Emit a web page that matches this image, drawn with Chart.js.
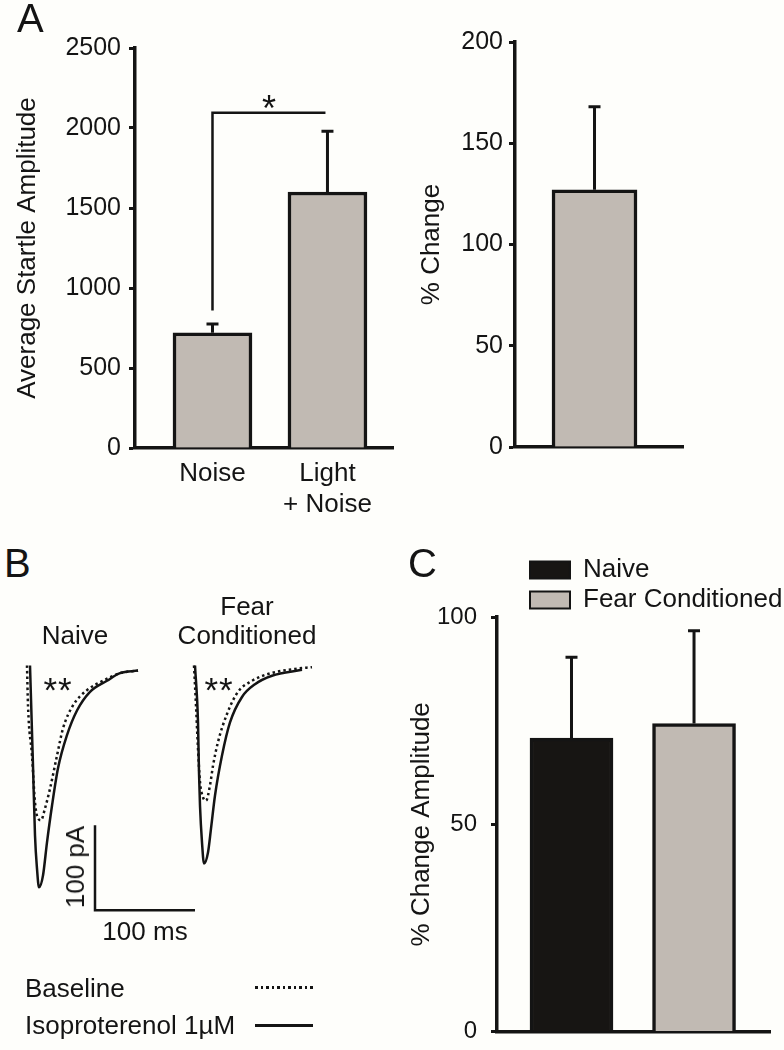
<!DOCTYPE html>
<html>
<head>
<meta charset="utf-8">
<title>Startle and EPSC amplitude</title>
<script src="https://cdn.jsdelivr.net/npm/chart.js@4.4.1/dist/chart.umd.min.js"></script>
<style>
  html, body { margin: 0; padding: 0; overflow: hidden; }
  body { width: 784px; height: 1050px; position: relative; background: #fefefb;
         font-family: 'Liberation Sans', Arial, sans-serif; color: #141414; }
  canvas { position: absolute; }
  .t { position: absolute; white-space: nowrap; line-height: 1; font-size: 26px; }
  .panel { font-size: 40px; }
  .mid { transform: translateX(-50%); }
  .stars { font-size: 35px; letter-spacing: 1px; }
  .key { position: absolute; left: 255px; width: 58px; height: 3px; }
</style>
</head>
<body>
<canvas id="startle" style="left:0;top:0" width="400" height="520"></canvas>
<canvas id="change" style="left:400px;top:0" width="384" height="520"></canvas>
<canvas id="naiveTrace" style="left:20px;top:640px" width="190" height="289"></canvas>
<canvas id="fearTrace" style="left:185px;top:640px" width="140" height="289"></canvas>
<canvas id="amplitude" style="left:400px;top:540px" width="384" height="520"></canvas>

<div class="t panel" style="left:17px;top:-2px">A</div>
<div class="t panel" style="left:4px;top:543px">B</div>
<div class="t panel" style="left:408px;top:543px">C</div>

<div class="t mid" style="left:75px;top:622px">Naive</div>
<div class="t mid" style="left:247px;top:593px">Fear</div>
<div class="t mid" style="left:247px;top:622px">Conditioned</div>
<div class="t mid stars" style="left:58px;top:672px">**</div>
<div class="t mid stars" style="left:219px;top:672px">**</div>
<div class="t" style="left:75px;top:867px;transform:translate(-50%,-50%) rotate(-90deg)">100 pA</div>
<div class="t mid" style="left:145px;top:918px">100 ms</div>
<div class="t" style="left:25px;top:975px">Baseline</div>
<div class="t" style="left:25px;top:1012px">Isoproterenol 1µM</div>
<div class="key" style="top:986px;background:repeating-linear-gradient(90deg,#141414 0 2.5px,transparent 2.5px 5.5px)"></div>
<div class="key" style="top:1024px;background:#141414"></div>

<script>
const ink = '#141414';
const barGrey = '#c1bab3';
const barBlack = '#171513';

// A, left: average startle amplitude
const startleCategories = ['Noise', ['Light', '+ Noise']];
const startleMeans = [720, 1600];
const startleSem = [55, 380];
const startleTicks = { min: 0, max: 2500, step: 500 };
const sigPair = [0, 1];
const sigLevel = 2095;
const sigLegBottom = 860;

// A, right: % change
const changeCategories = [''];
const changeMeans = [127];
const changeSem = [41];
const changeTicks = { min: 0, max: 200, step: 50 };

// C: % change amplitude
const groupNames = ['Naive', 'Fear Conditioned'];
const amplitudeMeans = [70.8, 74.3];
const amplitudeSem = [19.5, 22.4];
const amplitudeTicks = { min: 0, max: 100, step: 50 };

// B: example currents, time in ms, current in pA (relative to baseline)
const naiveIsoTime = [0, 3, 5, 7, 9, 13, 17, 22, 28, 37, 47, 60, 77, 90, 108];
const naiveIsoCurrent = [0, -118, -200, -239, -261, -247, -208, -165, -121, -82, -53, -31, -18, -9, -6];
const naiveBaseTime = [-3, -2, 2, 5, 8, 11, 15, 20, 27, 33, 43, 57, 73, 90, 108];
const naiveBaseCurrent = [0, -47, -106, -161, -180, -182, -168, -145, -106, -74, -47, -29, -18, -9, -6];
const fearIsoTime = [0, 3, 4, 5, 7, 9, 13, 16, 20, 27, 35, 47, 60, 77, 107];
const fearIsoCurrent = [0, -67, -126, -165, -208, -233, -220, -192, -153, -106, -67, -37, -22, -12, -5];
const fearBaseTime = [-1, 1, 3, 5, 8, 11, 15, 18, 23, 32, 43, 57, 73, 100, 117];
const fearBaseCurrent = [0, -47, -98, -137, -155, -159, -141, -118, -90, -57, -31, -18, -10, -4, -2];
// scale bar: 100 pA x 100 ms
const scaleBarTime = [65, 65, 165];
const scaleBarCurrent = [-188, -288, -288];

Chart.defaults.font.family = "'Liberation Sans', Arial, sans-serif";
Chart.defaults.color = ink;

const errorBars = {
  id: 'errorBars',
  afterDatasetsDraw(chart) {
    const { ctx, scales: { y } } = chart;
    chart.data.datasets.forEach((ds, di) => {
      if (!ds.errors) return;
      chart.getDatasetMeta(di).data.forEach((bar, i) => {
        const top = y.getPixelForValue(ds.data[i].y + ds.errors[i]);
        ctx.save();
        ctx.strokeStyle = ink;
        ctx.lineWidth = 3;
        ctx.beginPath();
        ctx.moveTo(bar.x, bar.y);
        ctx.lineTo(bar.x, top);
        ctx.moveTo(bar.x - 6, top);
        ctx.lineTo(bar.x + 6, top);
        ctx.stroke();
        ctx.restore();
      });
    });
  }
};

const sigBracket = {
  id: 'sigBracket',
  afterDatasetsDraw(chart, args, opts) {
    if (!opts.pair) return;
    const { ctx, scales: { x, y } } = chart;
    const x1 = x.getPixelForValue(opts.pair[0]);
    const x2 = x.getPixelForValue(opts.pair[1]) - 2;
    const yb = y.getPixelForValue(opts.level);
    const yl = y.getPixelForValue(opts.legBottom);
    ctx.save();
    ctx.strokeStyle = ink;
    ctx.lineWidth = 2.5;
    ctx.beginPath();
    ctx.moveTo(x1, yl);
    ctx.lineTo(x1, yb);
    ctx.lineTo(x2, yb);
    ctx.stroke();
    ctx.fillStyle = ink;
    ctx.font = "36px 'Liberation Sans', Arial, sans-serif";
    ctx.textAlign = 'center';
    ctx.textBaseline = 'alphabetic';
    ctx.fillText(opts.text, (x1 + x2) / 2, yb + 8);
    ctx.restore();
  }
};

// move the legend so its swatches line up with the first bar
const legendToBars = {
  id: 'legendToBars',
  beforeDraw(chart) {
    const bar = chart.getDatasetMeta(0).data[0];
    const lg = chart.legend;
    const shift = bar.x - bar.width / 2 - lg.options.labels.padding - lg.left;
    lg.left += shift;
    lg.right += shift;
  }
};

function barChart(id, o) {
  return new Chart(document.getElementById(id), {
    type: 'bar',
    data: { datasets: o.datasets },
    options: {
      responsive: false,
      animation: false,
      layout: { padding: o.padding },
      plugins: {
        legend: o.legend || { display: false },
        tooltip: { enabled: false },
        sigBracket: o.bracket || {}
      },
      scales: {
        x: {
          type: 'linear',
          min: o.xMin,
          max: o.xMax,
          offset: false,
          grid: { display: false, drawTicks: false, tickLength: 0 },
          border: { width: 3.5, color: ink },
          ticks: {
            display: o.showLabels,
            stepSize: 1,
            includeBounds: false,
            autoSkip: false,
            maxRotation: 0,
            padding: 10,
            color: ink,
            font: { size: 26 },
            callback: v => Number.isInteger(v) ? (o.categories[v] ?? '') : ''
          },
          afterFit: s => { s.height = o.xHeight; }
        },
        y: {
          min: o.ticks.min,
          max: o.ticks.max,
          ticks: {
            stepSize: o.ticks.step,
            padding: o.tickPad,
            color: ink,
            font: { size: o.tickFont },
            callback: v => String(v)
          },
          grid: { drawOnChartArea: false, tickLength: 6, tickWidth: 3, tickColor: ink },
          border: { width: 3.5, color: ink },
          title: {
            display: true,
            text: o.title,
            color: ink,
            font: { size: 26 },
            padding: { top: o.titlePad, bottom: 0 }
          },
          afterFit: s => { s.width = o.yWidth; }
        }
      }
    },
    plugins: [errorBars, sigBracket].concat(o.extraPlugins || [])
  });
}

const asPoints = vals => vals.map((v, i) => ({ x: i, y: v }));

barChart('startle', {
  categories: startleCategories,
  showLabels: true,
  datasets: [{
    data: asPoints(startleMeans),
    errors: startleSem,
    backgroundColor: barGrey,
    borderColor: ink,
    borderWidth: 3.5,
    barThickness: 79,
    grouped: false
  }],
  ticks: startleTicks,
  tickFont: 25,
  tickPad: 8,
  title: 'Average Startle Amplitude',
  titlePad: 12,
  yWidth: 135,
  xHeight: 72,
  xMin: -0.674,
  xMax: 1.57,
  padding: { top: 48, right: 7, left: 0, bottom: 0 },
  bracket: { pair: sigPair, level: sigLevel, legBottom: sigLegBottom, text: '*' }
});

barChart('change', {
  categories: changeCategories,
  showLabels: false,
  datasets: [{
    data: asPoints(changeMeans),
    errors: changeSem,
    backgroundColor: barGrey,
    borderColor: ink,
    borderWidth: 3.5,
    barThickness: 85,
    grouped: false
  }],
  ticks: changeTicks,
  tickFont: 25,
  tickPad: 6,
  title: '% Change',
  titlePad: 16,
  yWidth: 115,
  xHeight: 73,
  xMin: -1,
  xMax: 1.113,
  padding: { top: 42, right: 101, left: 0, bottom: 0 }
});

const groupColours = [barBlack, barGrey];
barChart('amplitude', {
  categories: [],
  showLabels: false,
  datasets: groupNames.map((name, i) => ({
    label: name,
    data: [{ x: i, y: amplitudeMeans[i] }],
    errors: [amplitudeSem[i]],
    backgroundColor: groupColours[i],
    borderColor: ink,
    borderWidth: 3.5,
    barThickness: 83,
    grouped: false
  })),
  legend: {
    display: true,
    position: 'top',
    align: 'start',
    fullSize: false,
    maxHeight: 64,
    labels: {
      boxWidth: 40,
      boxHeight: 17,
      padding: 4,
      color: ink,
      font: { size: 26 },
      generateLabels: chart => Chart.defaults.plugins.legend.labels.generateLabels(chart)
        .map(item => ({ ...item, lineWidth: 2 }))
    }
  },
  ticks: amplitudeTicks,
  tickFont: 24,
  tickPad: 14,
  title: '% Change Amplitude',
  titlePad: 6,
  yWidth: 97,
  xHeight: 22,
  xMin: -0.608,
  xMax: 1.62,
  padding: { top: 13, right: 14, left: 0, bottom: 0 },
  extraPlugins: [legendToBars]
});

const toXY = (t, c) => t.map((v, i) => ({ x: v, y: c[i] }));

function traceChart(id, xMax, sets) {
  return new Chart(document.getElementById(id), {
    type: 'line',
    data: { datasets: sets },
    options: {
      responsive: false,
      animation: false,
      layout: { padding: 0 },
      elements: { point: { radius: 0 } },
      plugins: { legend: { display: false }, tooltip: { enabled: false } },
      scales: {
        x: { type: 'linear', display: false, min: -10, max: xMax },
        y: { display: false, min: -310, max: 30 }
      }
    }
  });
}

const baselineStyle = { borderColor: ink, borderWidth: 2.5, borderDash: [2.5, 3], cubicInterpolationMode: 'monotone' };
const isoStyle = { borderColor: ink, borderWidth: 2.5, cubicInterpolationMode: 'monotone' };

traceChart('naiveTrace', 180, [
  { label: 'Baseline', data: toXY(naiveBaseTime, naiveBaseCurrent), ...baselineStyle },
  { label: 'Isoproterenol 1µM', data: toXY(naiveIsoTime, naiveIsoCurrent), ...isoStyle },
  { label: 'scale', data: toXY(scaleBarTime, scaleBarCurrent), borderColor: ink, borderWidth: 2.5, tension: 0 }
]);

traceChart('fearTrace', 130, [
  { label: 'Baseline', data: toXY(fearBaseTime, fearBaseCurrent), ...baselineStyle },
  { label: 'Isoproterenol 1µM', data: toXY(fearIsoTime, fearIsoCurrent), ...isoStyle }
]);
</script>
</body>
</html>
